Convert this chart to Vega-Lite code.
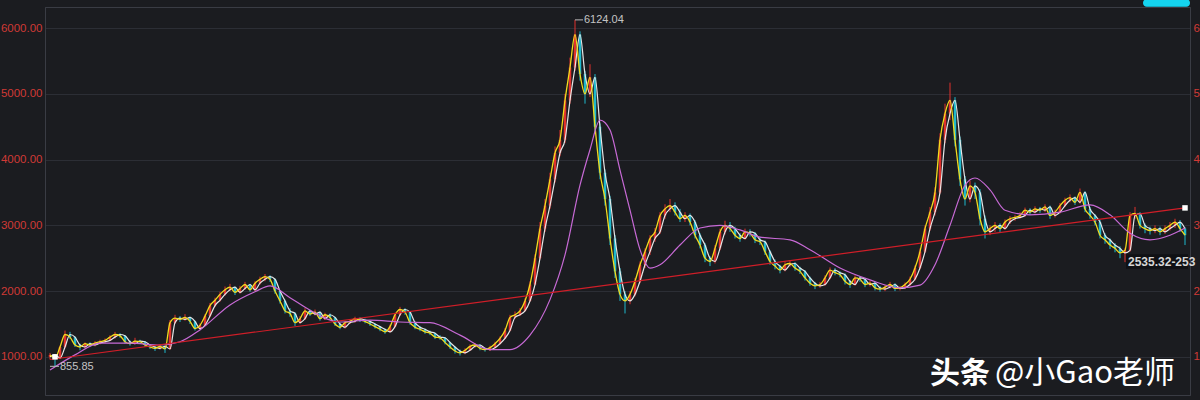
{
"$schema": "https://vega.github.io/schema/vega-lite/v6.json",
"width": 1145, "height": 388,
"autosize": {"type": "none"},
"padding": {"left": 45, "top": 7, "right": 10, "bottom": 5},
"background": "#1b1c20",
"config": {"view": {"stroke": "#3a3c44"}},
"datasets": {
"k": [
{"i":1,"o":1000,"c":1030,"h":1060,"l":960},{"i":2,"o":1030,"c":980,"h":1040,"l":856},{"i":3,"o":980,"c":1150,"h":1170,"l":970},{"i":4,"o":1150,"c":1340,"h":1400,"l":1130},{"i":5,"o":1340,"c":1300,"h":1380,"l":1270},{"i":6,"o":1300,"c":1180,"h":1310,"l":1150},{"i":7,"o":1180,"c":1150,"h":1200,"l":1100},{"i":8,"o":1150,"c":1200,"h":1220,"l":1130},{"i":9,"o":1200,"c":1180,"h":1220,"l":1150},{"i":10,"o":1180,"c":1210,"h":1240,"l":1160},
{"i":11,"o":1210,"c":1230,"h":1260,"l":1190},{"i":12,"o":1230,"c":1250,"h":1280,"l":1210},{"i":13,"o":1250,"c":1300,"h":1330,"l":1240},{"i":14,"o":1300,"c":1340,"h":1380,"l":1280},{"i":15,"o":1340,"c":1320,"h":1360,"l":1290},{"i":16,"o":1320,"c":1230,"h":1330,"l":1200},{"i":17,"o":1230,"c":1200,"h":1250,"l":1170},{"i":18,"o":1200,"c":1240,"h":1290,"l":1190},{"i":19,"o":1240,"c":1230,"h":1260,"l":1200},{"i":20,"o":1230,"c":1180,"h":1240,"l":1150},
{"i":21,"o":1180,"c":1150,"h":1190,"l":1120},{"i":22,"o":1150,"c":1130,"h":1170,"l":1090},{"i":23,"o":1130,"c":1160,"h":1190,"l":1110},{"i":24,"o":1160,"c":1120,"h":1170,"l":1060},{"i":25,"o":1120,"c":1520,"h":1560,"l":1110},{"i":26,"o":1520,"c":1590,"h":1640,"l":1500},{"i":27,"o":1590,"c":1570,"h":1620,"l":1530},{"i":28,"o":1570,"c":1600,"h":1650,"l":1550},{"i":29,"o":1600,"c":1540,"h":1610,"l":1500},{"i":30,"o":1540,"c":1430,"h":1550,"l":1400},
{"i":31,"o":1430,"c":1480,"h":1510,"l":1410},{"i":32,"o":1480,"c":1620,"h":1650,"l":1470},{"i":33,"o":1620,"c":1780,"h":1820,"l":1600},{"i":34,"o":1780,"c":1860,"h":1900,"l":1760},{"i":35,"o":1860,"c":1950,"h":1990,"l":1840},{"i":36,"o":1950,"c":2020,"h":2070,"l":1930},{"i":37,"o":2020,"c":2060,"h":2110,"l":2000},{"i":38,"o":2060,"c":1980,"h":2070,"l":1940},{"i":39,"o":1980,"c":2040,"h":2080,"l":1960},{"i":40,"o":2040,"c":2100,"h":2140,"l":2020},
{"i":41,"o":2100,"c":2020,"h":2110,"l":1990},{"i":42,"o":2020,"c":2120,"h":2150,"l":2000},{"i":43,"o":2120,"c":2180,"h":2220,"l":2100},{"i":44,"o":2180,"c":2220,"h":2260,"l":2150},{"i":45,"o":2220,"c":2180,"h":2240,"l":2140},{"i":46,"o":2180,"c":2000,"h":2190,"l":1960},{"i":47,"o":2000,"c":1850,"h":2010,"l":1810},{"i":48,"o":1850,"c":1700,"h":1870,"l":1660},{"i":49,"o":1700,"c":1660,"h":1740,"l":1610},{"i":50,"o":1660,"c":1520,"h":1680,"l":1470},
{"i":51,"o":1520,"c":1580,"h":1620,"l":1500},{"i":52,"o":1580,"c":1700,"h":1740,"l":1560},{"i":53,"o":1700,"c":1650,"h":1720,"l":1620},{"i":54,"o":1650,"c":1680,"h":1720,"l":1630},{"i":55,"o":1680,"c":1580,"h":1690,"l":1550},{"i":56,"o":1580,"c":1640,"h":1670,"l":1560},{"i":57,"o":1640,"c":1600,"h":1660,"l":1570},{"i":58,"o":1600,"c":1500,"h":1610,"l":1470},{"i":59,"o":1500,"c":1450,"h":1520,"l":1420},{"i":60,"o":1450,"c":1520,"h":1550,"l":1430},
{"i":61,"o":1520,"c":1540,"h":1570,"l":1500},{"i":62,"o":1540,"c":1580,"h":1610,"l":1520},{"i":63,"o":1580,"c":1560,"h":1600,"l":1530},{"i":64,"o":1560,"c":1540,"h":1580,"l":1510},{"i":65,"o":1540,"c":1500,"h":1550,"l":1470},{"i":66,"o":1500,"c":1460,"h":1510,"l":1430},{"i":67,"o":1460,"c":1420,"h":1470,"l":1390},{"i":68,"o":1420,"c":1380,"h":1430,"l":1350},{"i":69,"o":1380,"c":1460,"h":1490,"l":1370},{"i":70,"o":1460,"c":1640,"h":1670,"l":1450},
{"i":71,"o":1640,"c":1720,"h":1760,"l":1620},{"i":72,"o":1720,"c":1680,"h":1740,"l":1640},{"i":73,"o":1680,"c":1520,"h":1690,"l":1490},{"i":74,"o":1520,"c":1450,"h":1540,"l":1420},{"i":75,"o":1450,"c":1420,"h":1470,"l":1390},{"i":76,"o":1420,"c":1380,"h":1430,"l":1350},{"i":77,"o":1380,"c":1360,"h":1400,"l":1330},{"i":78,"o":1360,"c":1300,"h":1370,"l":1270},{"i":79,"o":1300,"c":1290,"h":1330,"l":1260},{"i":80,"o":1290,"c":1220,"h":1300,"l":1190},
{"i":81,"o":1220,"c":1150,"h":1230,"l":1120},{"i":82,"o":1150,"c":1090,"h":1160,"l":1050},{"i":83,"o":1090,"c":1060,"h":1110,"l":1020},{"i":84,"o":1060,"c":1100,"h":1130,"l":1040},{"i":85,"o":1100,"c":1160,"h":1190,"l":1090},{"i":86,"o":1160,"c":1180,"h":1210,"l":1140},{"i":87,"o":1180,"c":1130,"h":1190,"l":1100},{"i":88,"o":1130,"c":1110,"h":1140,"l":1080},{"i":89,"o":1110,"c":1140,"h":1170,"l":1090},{"i":90,"o":1140,"c":1200,"h":1230,"l":1130},
{"i":91,"o":1200,"c":1280,"h":1310,"l":1190},{"i":92,"o":1280,"c":1400,"h":1440,"l":1270},{"i":93,"o":1400,"c":1600,"h":1640,"l":1390},{"i":94,"o":1600,"c":1640,"h":1690,"l":1580},{"i":95,"o":1640,"c":1700,"h":1740,"l":1620},{"i":96,"o":1700,"c":1850,"h":1890,"l":1690},{"i":97,"o":1850,"c":2100,"h":2150,"l":1840},{"i":98,"o":2100,"c":2500,"h":2560,"l":2090},{"i":99,"o":2500,"c":2950,"h":3050,"l":2480},{"i":100,"o":2950,"c":3300,"h":3400,"l":2900},
{"i":101,"o":3300,"c":3700,"h":3800,"l":3250},{"i":102,"o":3700,"c":4100,"h":4200,"l":3650},{"i":103,"o":4100,"c":4300,"h":4450,"l":4050},{"i":104,"o":4300,"c":4900,"h":5000,"l":4250},{"i":105,"o":4900,"c":5400,"h":5550,"l":4850},{"i":106,"o":5400,"c":5900,"h":6124,"l":5350},{"i":107,"o":5900,"c":5300,"h":5950,"l":5200},{"i":108,"o":5300,"c":5000,"h":5350,"l":4850},{"i":109,"o":5000,"c":5250,"h":5450,"l":4950},{"i":110,"o":5250,"c":4500,"h":5300,"l":4400},
{"i":111,"o":4500,"c":3800,"h":4550,"l":3700},{"i":112,"o":3800,"c":3400,"h":3850,"l":3300},{"i":113,"o":3400,"c":2800,"h":3450,"l":2700},{"i":114,"o":2800,"c":2300,"h":2850,"l":2200},{"i":115,"o":2300,"c":1950,"h":2350,"l":1850},{"i":116,"o":1950,"c":1850,"h":2000,"l":1660},{"i":117,"o":1850,"c":1950,"h":2000,"l":1800},{"i":118,"o":1950,"c":2150,"h":2200,"l":1920},{"i":119,"o":2150,"c":2400,"h":2450,"l":2120},{"i":120,"o":2400,"c":2600,"h":2650,"l":2350},
{"i":121,"o":2600,"c":2800,"h":2850,"l":2550},{"i":122,"o":2800,"c":2900,"h":2960,"l":2750},{"i":123,"o":2900,"c":3150,"h":3200,"l":2870},{"i":124,"o":3150,"c":3250,"h":3320,"l":3100},{"i":125,"o":3250,"c":3300,"h":3400,"l":3200},{"i":126,"o":3300,"c":3200,"h":3350,"l":3150},{"i":127,"o":3200,"c":3100,"h":3250,"l":3050},{"i":128,"o":3100,"c":3150,"h":3200,"l":3050},{"i":129,"o":3150,"c":3050,"h":3180,"l":3000},{"i":130,"o":3050,"c":2850,"h":3080,"l":2800},
{"i":131,"o":2850,"c":2700,"h":2880,"l":2650},{"i":132,"o":2700,"c":2500,"h":2730,"l":2440},{"i":133,"o":2500,"c":2450,"h":2530,"l":2380},{"i":134,"o":2450,"c":2650,"h":2700,"l":2420},{"i":135,"o":2650,"c":2900,"h":2950,"l":2620},{"i":136,"o":2900,"c":3000,"h":3070,"l":2860},{"i":137,"o":3000,"c":2950,"h":3050,"l":2900},{"i":138,"o":2950,"c":2850,"h":2980,"l":2800},{"i":139,"o":2850,"c":2800,"h":2880,"l":2750},{"i":140,"o":2800,"c":2900,"h":2950,"l":2780},
{"i":141,"o":2900,"c":2880,"h":2940,"l":2830},{"i":142,"o":2880,"c":2780,"h":2900,"l":2730},{"i":143,"o":2780,"c":2750,"h":2820,"l":2700},{"i":144,"o":2750,"c":2600,"h":2770,"l":2550},{"i":145,"o":2600,"c":2450,"h":2620,"l":2400},{"i":146,"o":2450,"c":2380,"h":2480,"l":2330},{"i":147,"o":2380,"c":2320,"h":2400,"l":2270},{"i":148,"o":2320,"c":2400,"h":2440,"l":2300},{"i":149,"o":2400,"c":2420,"h":2470,"l":2370},{"i":150,"o":2420,"c":2350,"h":2440,"l":2310},
{"i":151,"o":2350,"c":2300,"h":2370,"l":2260},{"i":152,"o":2300,"c":2200,"h":2320,"l":2160},{"i":153,"o":2200,"c":2120,"h":2220,"l":2080},{"i":154,"o":2120,"c":2080,"h":2140,"l":2030},{"i":155,"o":2080,"c":2100,"h":2140,"l":2050},{"i":156,"o":2100,"c":2200,"h":2240,"l":2080},{"i":157,"o":2200,"c":2320,"h":2360,"l":2180},{"i":158,"o":2320,"c":2280,"h":2350,"l":2240},{"i":159,"o":2280,"c":2250,"h":2300,"l":2210},{"i":160,"o":2250,"c":2150,"h":2270,"l":2100},
{"i":161,"o":2150,"c":2100,"h":2170,"l":2050},{"i":162,"o":2100,"c":2200,"h":2240,"l":2080},{"i":163,"o":2200,"c":2180,"h":2230,"l":2140},{"i":164,"o":2180,"c":2100,"h":2200,"l":2060},{"i":165,"o":2100,"c":2120,"h":2160,"l":2070},{"i":166,"o":2120,"c":2050,"h":2140,"l":2010},{"i":167,"o":2050,"c":2030,"h":2080,"l":1990},{"i":168,"o":2030,"c":2060,"h":2090,"l":2000},{"i":169,"o":2060,"c":2100,"h":2140,"l":2040},{"i":170,"o":2100,"c":2040,"h":2120,"l":2000},
{"i":171,"o":2040,"c":2050,"h":2080,"l":2010},{"i":172,"o":2050,"c":2100,"h":2130,"l":2030},{"i":173,"o":2100,"c":2180,"h":2220,"l":2080},{"i":174,"o":2180,"c":2350,"h":2390,"l":2160},{"i":175,"o":2350,"c":2600,"h":2650,"l":2330},{"i":176,"o":2600,"c":2950,"h":3000,"l":2580},{"i":177,"o":2950,"c":3200,"h":3280,"l":2920},{"i":178,"o":3200,"c":3500,"h":3580,"l":3150},{"i":179,"o":3500,"c":4300,"h":4400,"l":3480},{"i":180,"o":4300,"c":4700,"h":4850,"l":4250},
{"i":181,"o":4700,"c":4900,"h":5170,"l":4600},{"i":182,"o":4900,"c":4300,"h":4950,"l":4200},{"i":183,"o":4300,"c":3700,"h":4350,"l":3600},{"i":184,"o":3700,"c":3400,"h":3750,"l":3300},{"i":185,"o":3400,"c":3600,"h":3680,"l":3350},{"i":186,"o":3600,"c":3500,"h":3650,"l":3400},{"i":187,"o":3500,"c":3100,"h":3550,"l":3000},{"i":188,"o":3100,"c":2900,"h":3150,"l":2800},{"i":189,"o":2900,"c":2950,"h":3000,"l":2850},{"i":190,"o":2950,"c":3000,"h":3050,"l":2900},
{"i":191,"o":3000,"c":2950,"h":3030,"l":2900},{"i":192,"o":2950,"c":3050,"h":3090,"l":2930},{"i":193,"o":3050,"c":3100,"h":3140,"l":3020},{"i":194,"o":3100,"c":3120,"h":3160,"l":3070},{"i":195,"o":3120,"c":3150,"h":3200,"l":3100},{"i":196,"o":3150,"c":3230,"h":3270,"l":3130},{"i":197,"o":3230,"c":3200,"h":3260,"l":3160},{"i":198,"o":3200,"c":3250,"h":3290,"l":3180},{"i":199,"o":3250,"c":3230,"h":3280,"l":3190},{"i":200,"o":3230,"c":3280,"h":3320,"l":3200},
{"i":201,"o":3280,"c":3150,"h":3300,"l":3100},{"i":202,"o":3150,"c":3200,"h":3240,"l":3120},{"i":203,"o":3200,"c":3300,"h":3340,"l":3180},{"i":204,"o":3300,"c":3380,"h":3420,"l":3280},{"i":205,"o":3380,"c":3420,"h":3470,"l":3350},{"i":206,"o":3420,"c":3350,"h":3440,"l":3310},{"i":207,"o":3350,"c":3500,"h":3560,"l":3330},{"i":208,"o":3500,"c":3250,"h":3520,"l":3200},{"i":209,"o":3250,"c":3150,"h":3280,"l":3100},{"i":210,"o":3150,"c":3050,"h":3170,"l":3000},
{"i":211,"o":3050,"c":2850,"h":3080,"l":2800},{"i":212,"o":2850,"c":2780,"h":2880,"l":2720},{"i":213,"o":2780,"c":2700,"h":2800,"l":2640},{"i":214,"o":2700,"c":2650,"h":2730,"l":2590},{"i":215,"o":2650,"c":2580,"h":2680,"l":2500},{"i":216,"o":2580,"c":2620,"h":2660,"l":2440},{"i":217,"o":2620,"c":3150,"h":3200,"l":2600},{"i":218,"o":3150,"c":3180,"h":3280,"l":3100},{"i":219,"o":3180,"c":3000,"h":3200,"l":2950},{"i":220,"o":3000,"c":2950,"h":3030,"l":2880},
{"i":221,"o":2950,"c":2920,"h":2980,"l":2860},{"i":222,"o":2920,"c":2950,"h":3000,"l":2880},{"i":223,"o":2950,"c":2900,"h":2980,"l":2850},{"i":224,"o":2900,"c":2950,"h":3000,"l":2870},{"i":225,"o":2950,"c":3000,"h":3050,"l":2920},{"i":226,"o":3000,"c":3050,"h":3100,"l":2960},{"i":227,"o":3050,"c":2950,"h":3080,"l":2900},{"i":228,"o":2950,"c":2850,"h":2970,"l":2700}
],
"ma": [
{"i":1,"v":800},{"i":6,"v":1030},{"i":11,"v":1210},{"i":17,"v":1210},{"i":23,"v":1180},{"i":27,"v":1230},{"i":31,"v":1410},{"i":37,"v":1790},{"i":42,"v":1990},{"i":45,"v":2080},{"i":49,"v":1900},{"i":53,"v":1710},{"i":59,"v":1530},{"i":65,"v":1560},{"i":71,"v":1530},{"i":77,"v":1520},{"i":83,"v":1330},{"i":89,"v":1110},{"i":93,"v":1110},{"i":97,"v":1330},{"i":101,"v":1870},{"i":104,"v":2550},{"i":107,"v":3610},{"i":109,"v":4150},{"i":111,"v":4600},{"i":113,"v":4450},{"i":115,"v":3840},{"i":117,"v":3230},{"i":119,"v":2630},{"i":121,"v":2350},{"i":123,"v":2400},{"i":127,"v":2700},{"i":131,"v":2960},{"i":135,"v":3000},{"i":139,"v":2930},{"i":143,"v":2820},{"i":149,"v":2780},{"i":153,"v":2630},{"i":159,"v":2350},{"i":165,"v":2170},{"i":171,"v":2050},{"i":175,"v":2090},{"i":178,"v":2400},{"i":181,"v":3000},{"i":184,"v":3610},{"i":186,"v":3720},{"i":189,"v":3540},{"i":192,"v":3230},{"i":197,"v":3160},{"i":203,"v":3200},{"i":209,"v":3310},{"i":213,"v":3160},{"i":217,"v":2880},{"i":221,"v":2780},{"i":225,"v":2850},{"i":228,"v":2960}
],
"trend": [{"i":1,"v":960},{"i":228,"v":3265}],
"ends": [{"i":2,"v":1000},{"i":228,"v":3265}],
"one": [{}]
},
"layer": [
{"data": {"name": "k"}, "mark": {"type": "rule", "strokeWidth": 1},
 "encoding": {
  "x": {"field": "i", "type": "quantitative", "scale": {"domain": [0, 229], "nice": false, "zero": false}, "axis": null},
  "y": {"field": "l", "type": "quantitative", "scale": {"domain": [420, 6320], "nice": false, "zero": false},
   "axis": {"orient": "left", "values": [1000,2000,3000,4000,5000,6000], "format": ".2f", "labelColor": "#d03a36", "labelFontSize": 11.5, "labelFont": "Liberation Sans", "tickSize": 0, "ticks": false, "labelPadding": 3, "grid": true, "gridColor": "#2c2e35", "domainColor": "#3a3c44", "title": null}},
  "y2": {"field": "h"},
  "color": {"condition": {"test": "datum.c >= datum.o", "value": "#e0302c"}, "value": "#1fb8cc"}}},
{"data": {"name": "k"}, "mark": {"type": "rule", "strokeWidth": 2.5},
 "encoding": {
  "x": {"field": "i", "type": "quantitative"},
  "y": {"field": "o", "type": "quantitative", "axis": {"orient": "right", "values": [1000,2000,3000,4000,5000,6000], "format": ".2f", "labelColor": "#d03a36", "labelFontSize": 11.5, "labelFont": "Liberation Sans", "tickSize": 0, "ticks": false, "labelPadding": 3, "grid": false, "domainColor": "#3a3c44", "title": null}},
  "y2": {"field": "c"},
  "color": {"condition": {"test": "datum.c >= datum.o", "value": "#e0302c"}, "value": "#1fb8cc"}}},
{"data": {"name": "k"}, "mark": {"type": "line", "color": "#e6e6e6", "strokeWidth": 1.2, "interpolate": "monotone"},
 "encoding": {"x": {"field": "i", "type": "quantitative"}, "y": {"field": "o", "type": "quantitative", "axis": null}}},
{"data": {"name": "k"}, "mark": {"type": "line", "color": "#f2dc1e", "strokeWidth": 1.3, "interpolate": "monotone"},
 "encoding": {"x": {"field": "i", "type": "quantitative"}, "y": {"field": "c", "type": "quantitative", "axis": null}}},
{"data": {"name": "ma"}, "mark": {"type": "line", "color": "#c86ad6", "strokeWidth": 1.2, "interpolate": "monotone"},
 "encoding": {"x": {"field": "i", "type": "quantitative"}, "y": {"field": "v", "type": "quantitative", "axis": null}}},
{"data": {"name": "trend"}, "mark": {"type": "line", "color": "#d01e28", "strokeWidth": 1.2},
 "encoding": {"x": {"field": "i", "type": "quantitative"}, "y": {"field": "v", "type": "quantitative", "axis": null}}},
{"data": {"name": "ends"}, "mark": {"type": "point", "shape": "square", "filled": true, "color": "#ffffff", "size": 30, "opacity": 1},
 "encoding": {"x": {"field": "i", "type": "quantitative"}, "y": {"field": "v", "type": "quantitative", "axis": null}}},
{"data": {"name": "one"}, "mark": {"type": "rule", "color": "#bbbbbb", "strokeWidth": 1},
 "encoding": {"x": {"datum": 106}, "x2": {"datum": 107.6}, "y": {"datum": 6124, "type": "quantitative", "axis": null}}},
{"data": {"name": "one"}, "mark": {"type": "text", "text": "6124.04", "align": "left", "baseline": "middle", "color": "#c4c4c4", "fontSize": 11, "font": "Liberation Sans"},
 "encoding": {"x": {"datum": 107.8}, "y": {"datum": 6124, "type": "quantitative", "axis": null}}},
{"data": {"name": "one"}, "mark": {"type": "rule", "color": "#bbbbbb", "strokeWidth": 1},
 "encoding": {"x": {"datum": 1}, "x2": {"datum": 2.8}, "y": {"datum": 856, "type": "quantitative", "axis": null}}},
{"data": {"name": "one"}, "mark": {"type": "text", "text": "855.85", "align": "left", "baseline": "middle", "color": "#c4c4c4", "fontSize": 11, "font": "Liberation Sans"},
 "encoding": {"x": {"datum": 3}, "y": {"datum": 850, "type": "quantitative", "axis": null}}},
{"data": {"name": "one"}, "mark": {"type": "rect", "color": "#101114"},
 "encoding": {"x": {"datum": 216.2}, "x2": {"datum": 228.6}, "y": {"datum": 2340, "type": "quantitative", "axis": null}, "y2": {"datum": 2560}}},
{"data": {"name": "one"}, "mark": {"type": "text", "text": "2535.32-253", "align": "left", "baseline": "middle", "color": "#d6d6d6", "fontSize": 12, "fontWeight": "bold", "font": "Liberation Sans"},
 "encoding": {"x": {"datum": 216.6}, "y": {"datum": 2444, "type": "quantitative", "axis": null}}},
{"data": {"name": "one"}, "mark": {"type": "rect", "color": "#14d4f0", "cornerRadius": 5},
 "encoding": {"x": {"datum": 219.6}, "x2": {"datum": 229}, "y": {"datum": 6325, "type": "quantitative", "axis": null}, "y2": {"datum": 6440}}},
{"data": {"name": "one"}, "mark": {"type": "text", "text": "头条", "align": "left", "baseline": "middle", "color": "#ffffff", "fontSize": 30, "fontWeight": "bold", "font": "Noto Sans CJK SC"},
 "encoding": {"x": {"datum": 177}, "y": {"datum": 745, "type": "quantitative", "axis": null}}},
{"data": {"name": "one"}, "mark": {"type": "text", "text": "@小Gao老师", "align": "left", "baseline": "middle", "color": "#ffffff", "fontSize": 31, "font": "Noto Sans CJK SC"},
 "encoding": {"x": {"datum": 190}, "y": {"datum": 745, "type": "quantitative", "axis": null}}}
],
"resolve": {"axis": {"y": "independent"}}
}
